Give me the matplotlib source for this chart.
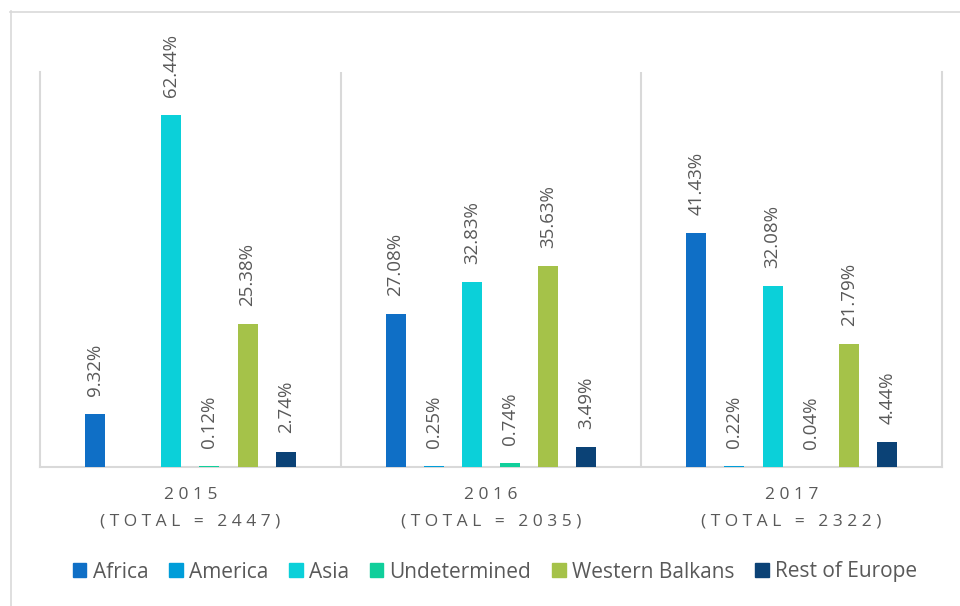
import matplotlib

matplotlib.use("Agg")
import matplotlib.pyplot as plt
from matplotlib.lines import Line2D
import numpy as np

plt.rcParams["font.family"] = ["Open Sans", "DejaVu Sans"]

years = ["2015", "2016", "2017"]
totals = [2447, 2035, 2322]
regions = ["Africa", "America", "Asia", "Undetermined", "Western Balkans", "Rest of Europe"]
# share (%) per region, one list per year; None = no bar / no label
share_2015 = [9.32, None, 62.44, 0.12, 25.38, 2.74]
share_2016 = [27.08, 0.25, 32.83, 0.74, 35.63, 3.49]
share_2017 = [41.43, 0.22, 32.08, 0.04, 21.79, 4.44]
colors = ["#0F6FC6", "#009DD9", "#0BD0D9", "#10CF9B", "#A5C249", "#0B4276"]

TEXT = "#595959"
GRID = "#D9D9D9"


def spaced(s):
    # poor man's letter spacing
    return " ".join(s)


fig = plt.figure(figsize=(9.6, 6.06), dpi=100)
W, H = 960, 606
ax = fig.add_axes([40 / W, 1 - 467 / H, (942 - 40) / W, (467 - 72) / H])

# outer frame, runs off the canvas at right and bottom
fig.add_artist(Line2D([10.5 / W, 10.5 / W], [0, 1 - 11 / H], transform=fig.transFigure,
                      color=GRID, lw=1.2))
fig.add_artist(Line2D([10 / W, 1], [1 - 11.5 / H, 1 - 11.5 / H], transform=fig.transFigure,
                      color=GRID, lw=1.2))

step = 0.127
width = 0.0665
x = np.arange(len(years))
for i, (name, col) in enumerate(zip(regions, colors)):
    vals = [share_2015[i], share_2016[i], share_2017[i]]
    xs = x + (i - 2.5) * step
    for xi, v in zip(xs, vals):
        if v is None:
            continue
        ax.bar(xi, v, width=width, color=col, zorder=3)
        ax.annotate(f"{v:.2f}%", (xi, v), xytext=(0, 13), textcoords="offset points",
                    rotation=90, ha="center", va="bottom", fontsize=13.5, color=TEXT)

ax.set_xlim(-0.5, 2.5)
ax.set_ylim(0, 70)
ax.set_yticks([])
ax.set_xticks([])
for sp in ["left", "right", "bottom"]:
    ax.spines[sp].set_color(GRID)
    ax.spines[sp].set_linewidth(1.5)
ax.spines["top"].set_visible(False)
for sep in [0.5, 1.5]:
    ax.axvline(sep, color=GRID, lw=1.5, zorder=1)

tr = ax.get_xaxis_transform()
for xi, yr, tot in zip(x, years, totals):
    ax.text(xi, -0.071, spaced(yr), transform=tr, ha="center", va="center",
            fontsize=12.5, color=TEXT)
    ax.text(xi, -0.137, spaced(f"(TOTAL = {tot})"), transform=tr, ha="center",
            va="center", fontsize=12.5, color=TEXT)

handles = [plt.Rectangle((0, 0), 1, 1, color=c) for c in colors]
fig.legend(handles, regions, loc="center", bbox_to_anchor=(495 / W, 1 - 572 / H),
           ncol=6, frameon=False, fontsize=15, handlelength=0.65, handleheight=0.65,
           handletextpad=0.3, columnspacing=1.0, labelcolor=TEXT)

fig.savefig("out.png", dpi=100)
